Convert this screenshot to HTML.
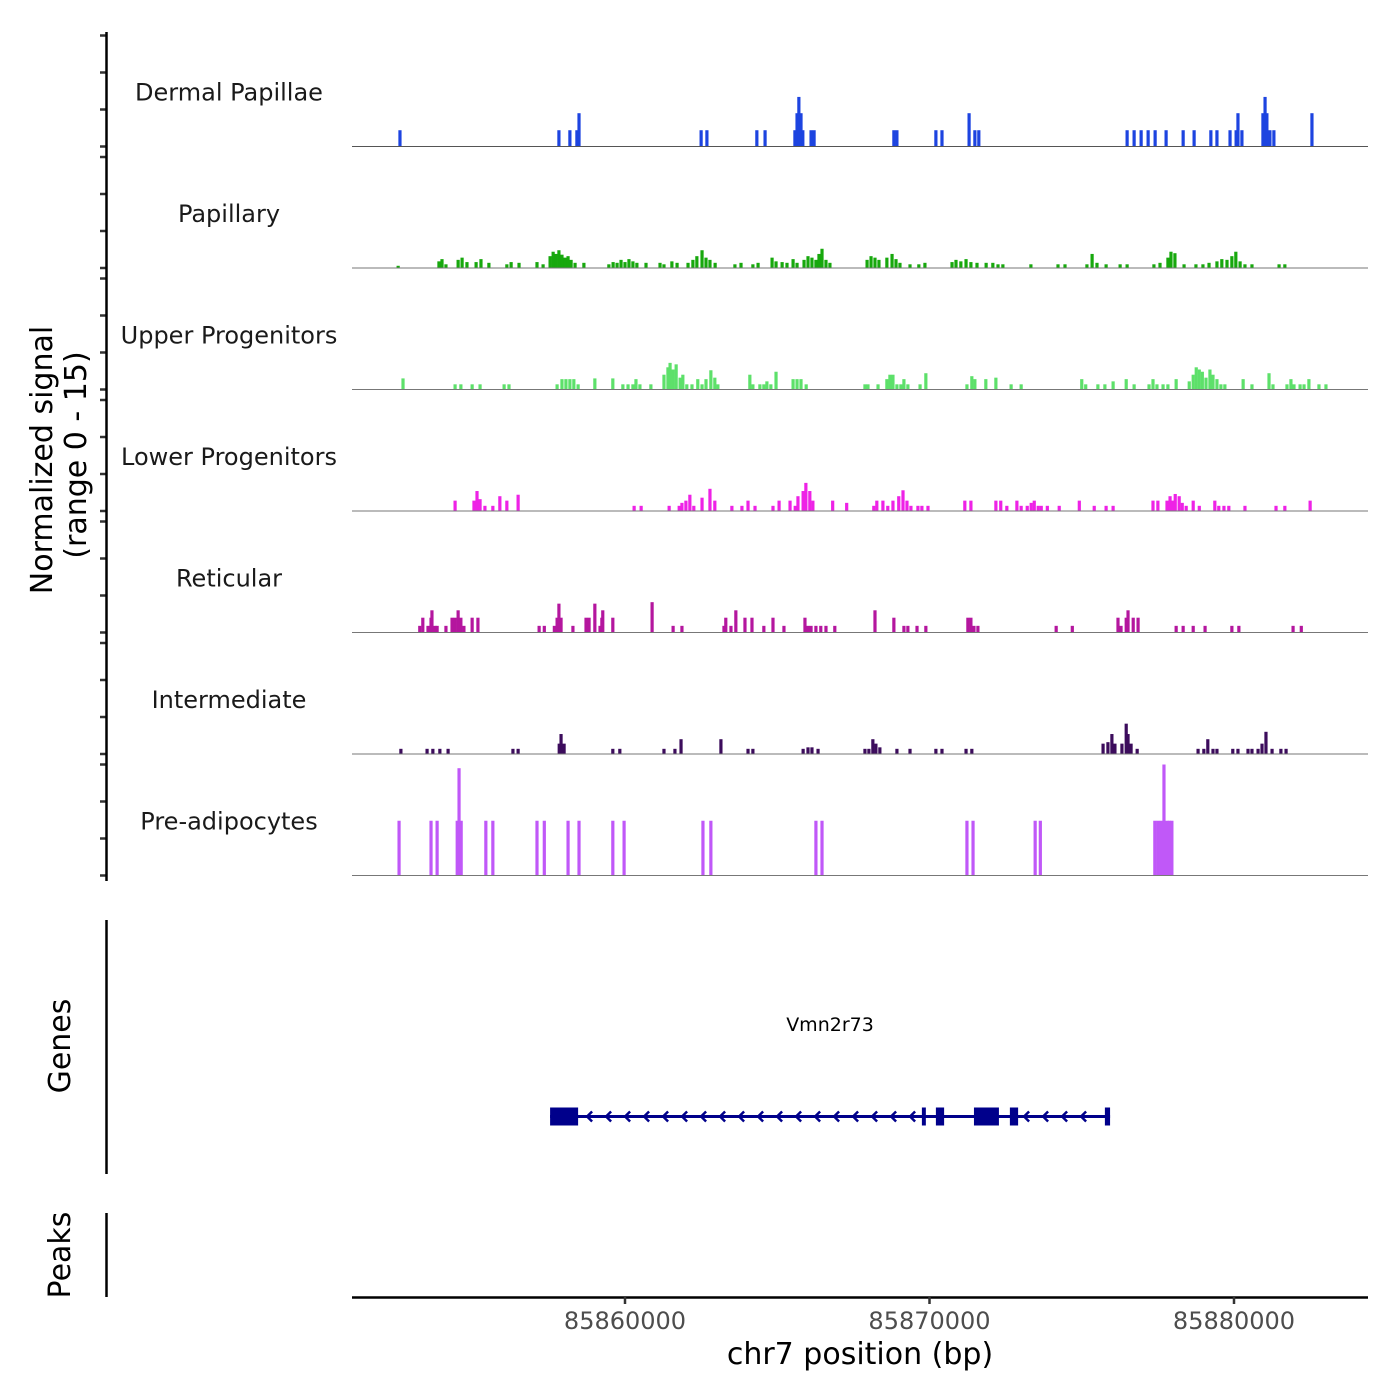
<!DOCTYPE html>
<html><head><meta charset="utf-8"><style>
body{margin:0;background:#fff}
svg{display:block;font-family:"DejaVu Sans","Liberation Sans",sans-serif}
</style></head><body>
<svg id="chart" width="1400" height="1400" viewBox="0 0 1400 1400" xmlns="http://www.w3.org/2000/svg">
<g id="tracks"></g>
<g id="labels"></g>
<g id="yaxis"></g>
<text transform="translate(52,460) rotate(-90)" text-anchor="middle" font-size="30" fill="#000">Normalized signal</text>
<text transform="translate(86,455) rotate(-90)" text-anchor="middle" font-size="30" fill="#000">(range 0 - 15)</text>
<line x1="106.5" y1="920" x2="106.5" y2="1174" stroke="#000" stroke-width="2.5"/>
<text transform="translate(70,1046) rotate(-90)" text-anchor="middle" font-size="30" fill="#000">Genes</text>
<line x1="106.5" y1="1213" x2="106.5" y2="1297" stroke="#000" stroke-width="2.5"/>
<text transform="translate(70,1255) rotate(-90)" text-anchor="middle" font-size="30" fill="#000">Peaks</text>
<g id="gene"></g>
<text x="830" y="1031" text-anchor="middle" font-size="19" fill="#000">Vmn2r73</text>
<g id="xaxis"></g>
<text x="860" y="1364" text-anchor="middle" font-size="30" fill="#000">chr7 position (bp)</text>
</svg>
<script>
// positions in kb offset from 85,850,000 bp; values in normalized signal units (0-15)
const trackNames = ["Dermal Papillae","Papillary","Upper Progenitors","Lower Progenitors","Reticular","Intermediate","Pre-adipocytes"];
const trackColors = ["#1d44e0","#17a80d","#5de06a","#ee22e6","#b4169e","#3c0c5c","#c058f8"];
const dpPos = [2.61,7.83,8.19,8.42,8.49,12.50,12.69,14.33,14.60,15.58,15.65,15.71,15.78,15.84,16.11,16.21,18.83,18.93,20.21,20.41,21.30,21.49,21.62,26.49,26.72,26.95,27.18,27.41,27.77,28.33,28.69,29.24,29.44,29.87,30.07,30.13,30.26,30.95,31.02,31.08,31.18,31.31,32.56];
const dpVal = [2.2,2.2,2.2,2.2,4.5,2.2,2.2,2.2,2.2,2.2,4.5,6.7,4.5,2.2,2.2,2.2,2.2,2.2,2.2,2.2,4.5,2.2,2.2,2.2,2.2,2.2,2.2,2.2,2.2,2.2,2.2,2.2,2.2,2.2,2.2,4.5,2.2,4.5,6.7,4.5,2.2,2.2,4.5];
const papPos = [2.55,3.89,3.99,4.12,4.52,4.65,4.81,5.11,5.27,5.53,6.12,6.26,6.52,7.11,7.31,7.54,7.64,7.73,7.83,7.93,8.03,8.13,8.23,8.36,8.65,9.47,9.61,9.74,9.87,10.00,10.13,10.26,10.39,10.69,11.15,11.28,11.54,11.71,12.07,12.23,12.36,12.53,12.66,12.79,12.96,13.61,13.81,14.20,14.37,14.83,14.96,15.16,15.32,15.52,15.65,15.88,16.01,16.14,16.27,16.37,16.47,16.60,16.73,17.95,18.08,18.21,18.34,18.60,18.77,18.90,19.03,19.36,19.65,19.85,20.74,20.87,21.03,21.20,21.36,21.56,21.86,22.08,22.25,22.41,23.33,24.22,24.45,25.17,25.34,25.50,25.80,26.26,26.49,27.37,27.57,27.83,27.93,28.06,28.36,28.75,28.98,29.18,29.44,29.60,29.77,29.93,30.06,30.20,30.36,30.59,31.48,31.67];
const papVal = [0.3,0.9,1.2,0.5,1.1,1.4,0.8,0.8,1.2,0.7,0.5,0.8,0.7,0.8,0.5,1.6,2.2,1.9,2.4,1.8,1.4,1.6,1.1,0.7,0.7,0.5,0.8,0.7,1.1,0.8,1.2,0.9,0.7,0.7,0.7,0.5,0.9,0.7,0.7,1.1,1.6,2.4,1.4,1.1,0.7,0.5,0.7,0.5,0.7,1.4,0.9,0.8,0.7,1.2,0.7,1.1,1.6,1.4,1.1,1.9,2.6,1.1,0.7,1.1,1.6,1.4,1.1,1.4,1.9,1.2,0.7,0.5,0.5,0.7,0.8,1.1,0.9,1.2,0.8,0.7,0.7,0.7,0.5,0.5,0.5,0.5,0.5,0.5,1.9,0.7,0.5,0.5,0.5,0.5,0.7,1.4,2.2,2.0,0.5,0.5,0.5,0.7,0.9,1.2,1.1,1.6,2.2,0.9,0.5,0.5,0.5,0.5];
const upPos = [2.71,4.42,4.61,4.98,5.24,6.03,6.19,7.77,7.93,8.06,8.19,8.32,8.46,9.01,9.60,9.93,10.10,10.26,10.36,10.49,10.85,11.28,11.41,11.48,11.58,11.68,11.81,11.90,12.03,12.20,12.39,12.53,12.66,12.82,12.95,13.05,14.10,14.20,14.43,14.56,14.66,14.79,14.96,15.52,15.65,15.78,15.95,17.88,17.98,18.31,18.60,18.70,18.80,18.93,19.06,19.16,19.29,19.69,19.88,21.23,21.39,21.49,21.85,22.18,22.68,23.01,25.00,25.13,25.53,25.76,26.03,26.46,26.72,27.21,27.34,27.47,27.67,27.83,28.10,28.53,28.66,28.76,28.86,28.96,29.08,29.21,29.31,29.44,29.57,29.70,30.30,30.59,31.15,31.28,31.74,31.87,31.97,32.17,32.30,32.46,32.79,33.02];
const upVal = [1.5,0.7,0.7,0.7,0.7,0.7,0.7,0.7,1.4,1.4,1.4,1.4,0.7,1.5,1.5,0.7,0.7,0.7,1.4,0.7,0.7,2.0,3.0,3.6,2.7,3.4,1.6,2.0,0.7,0.7,1.4,0.7,1.4,2.6,1.6,0.7,2.0,0.7,0.7,0.7,1.1,0.7,2.4,1.4,1.4,1.4,0.7,0.7,0.7,0.7,1.4,2.0,2.0,0.7,0.7,1.4,0.7,0.7,2.2,0.7,1.8,1.4,1.4,1.6,0.7,0.7,1.4,0.7,0.7,0.7,1.1,1.4,0.7,0.7,1.4,0.7,0.7,0.7,1.4,1.1,2.0,3.0,2.7,2.4,1.6,2.7,2.0,1.4,0.7,0.7,1.4,0.7,2.2,0.7,0.7,1.4,0.7,0.7,0.7,1.4,0.7,0.7];
const lpPos = [4.42,5.04,5.14,5.24,5.40,5.66,5.89,6.12,6.49,10.30,10.53,11.45,11.78,11.87,12.00,12.13,12.26,12.53,12.79,12.95,13.51,13.84,14.04,14.27,14.86,15.06,15.42,15.59,15.68,15.85,15.94,16.07,16.17,16.82,17.28,18.17,18.27,18.47,18.63,18.80,18.99,19.13,19.26,19.39,19.62,19.75,19.95,21.16,21.36,22.18,22.34,22.54,22.87,23.01,23.21,23.34,23.44,23.57,23.67,23.87,24.26,24.92,25.41,25.80,26.03,27.34,27.50,27.80,27.90,28.00,28.07,28.20,28.30,28.43,28.66,28.86,29.37,29.50,29.67,29.83,30.36,31.38,31.67,32.50];
const lpVal = [1.4,1.4,2.7,1.6,0.7,0.7,2.0,1.4,2.2,0.7,0.7,0.7,0.7,1.1,1.4,2.2,0.7,1.8,3.0,1.4,0.7,0.7,1.4,0.7,0.7,1.4,1.4,0.7,2.0,2.7,3.8,2.7,1.4,1.4,1.1,0.7,1.4,1.4,0.7,1.4,2.0,2.8,1.4,0.7,0.7,0.7,0.7,1.4,1.4,1.4,1.4,0.7,1.4,0.7,0.7,1.1,1.4,0.7,0.7,0.7,0.7,1.4,0.7,0.7,0.7,1.4,1.4,1.4,2.0,1.4,2.3,2.0,1.1,0.7,1.4,0.7,1.4,0.7,0.7,0.7,0.7,0.7,0.7,1.4];
const retPos = [3.26,3.36,3.53,3.63,3.66,3.76,3.83,4.12,4.32,4.42,4.52,4.61,4.71,4.98,5.17,7.18,7.35,7.68,7.77,7.83,7.90,8.29,8.72,8.82,9.01,9.18,9.24,9.27,9.60,10.89,11.58,11.87,13.25,13.31,13.48,13.64,13.94,14.17,14.56,14.86,15.22,15.91,16.01,16.11,16.27,16.43,16.60,16.89,18.21,18.83,19.16,19.29,19.59,19.88,21.26,21.36,21.46,21.59,24.16,24.69,26.19,26.29,26.46,26.52,26.69,26.85,28.10,28.33,28.66,29.05,29.93,30.16,31.94,32.21];
const retVal = [0.9,2.0,0.9,2.0,3.0,0.9,0.9,0.9,2.0,2.0,3.0,2.0,0.9,2.0,2.0,0.9,0.9,0.9,2.0,3.9,2.0,0.9,2.0,2.0,3.9,0.9,2.0,3.0,2.0,4.1,0.9,0.9,0.9,2.0,0.9,3.0,2.0,2.0,0.9,2.0,0.9,2.0,0.9,0.9,0.9,0.9,0.9,0.9,3.0,2.0,0.9,0.9,0.9,0.9,2.0,2.0,0.9,0.9,0.9,0.9,2.0,0.9,2.0,3.0,2.0,2.0,0.9,0.9,0.9,0.9,0.9,0.9,0.9,0.9];
const intPos = [2.64,3.50,3.69,3.92,4.19,6.32,6.49,7.84,7.90,8.00,9.60,9.83,11.28,11.64,11.84,13.15,14.04,14.20,15.85,16.01,16.14,16.34,17.88,18.01,18.14,18.24,18.37,18.93,19.36,20.21,20.41,21.20,21.39,25.70,25.86,25.99,26.09,26.32,26.46,26.52,26.62,26.82,28.82,29.01,29.14,29.31,29.44,29.96,30.13,30.46,30.59,30.79,30.92,31.05,31.25,31.54,31.71];
const intVal = [0.7,0.7,0.7,0.7,0.7,0.7,0.7,1.4,2.7,1.4,0.7,0.7,0.7,0.7,2.0,2.0,0.7,0.7,0.7,0.9,0.9,0.7,0.7,0.7,2.0,1.4,0.9,0.7,0.7,0.7,0.7,0.7,0.7,1.4,1.6,2.7,1.4,1.4,4.1,2.7,1.4,0.7,0.7,0.7,2.0,0.7,0.7,0.7,0.7,0.7,0.7,0.7,1.4,3.0,0.7,0.7,0.7];
const prePos = [2.58,3.63,3.83,4.49,4.55,4.62,5.43,5.66,7.11,7.35,8.13,8.49,9.60,9.97,12.56,12.82,16.27,16.47,21.23,21.43,23.47,23.64,27.40,27.50,27.60,27.70,27.80,27.88,27.96];
const preVal = [7.4,7.4,7.4,7.4,14.5,7.4,7.4,7.4,7.4,7.4,7.4,7.4,7.4,7.4,7.4,7.4,7.4,7.4,7.4,7.4,7.4,7.4,7.4,7.4,7.4,15.0,7.4,7.4,7.4];
const trackPos = [dpPos,papPos,upPos,lpPos,retPos,intPos,prePos];
const trackVal = [dpVal,papVal,upVal,lpVal,retVal,intVal,preVal];
const xTicks = [85860000,85870000,85880000];
const xTickLabels = ["85860000","85870000","85880000"];
const yTicks = [0,5,10,15];
// gene model (kb offsets from 85,850,000)
const geneStart = 7.54, geneEnd = 25.93;
const exonStart = [7.54,19.75,20.21,21.46,22.64,25.76];
const exonEnd   = [8.46,19.88,20.48,22.28,22.91,25.93];

const NS="http://www.w3.org/2000/svg";
function el(tag,attrs,parent){const e=document.createElementNS(NS,tag);for(const k in attrs)e.setAttribute(k,attrs[k]);parent.appendChild(e);return e;}
function xScale(bp){return 625+(bp-85860000)*0.03045;}
function kb(off){return 85850000+off*1000;}
const X0=352,X1=1368,TRACK_H=121.5,BASE0=146.5,UNIT=7.4;
function baseY(i){return BASE0+i*TRACK_H;}
function yScale(i,v){return baseY(i)-v*UNIT;}

const tracks=document.getElementById('tracks');
const labels=document.getElementById('labels');
const yaxis=document.getElementById('yaxis');
for(let i=0;i<trackNames.length;i++){
  const g=el('g',{},tracks);
  
  
  const pos=trackPos[i],val=trackVal[i];
  for(let j=0;j<pos.length;j++){
    const x=xScale(kb(pos[j])), y=yScale(i,val[j]);
    const r=el('rect',{x:(x-1.6).toFixed(2),y:y.toFixed(2),width:3.2,height:(baseY(i)-y).toFixed(2),fill:trackColors[i]},g);
    
    
  }
  const bl=el('line',{x1:X0,x2:X1,y1:baseY(i),y2:baseY(i),stroke:i<1?'#555':'#777','stroke-width':1},g);
  
  
  const t=el('text',{x:229,y:baseY(i)-46,'text-anchor':'middle','font-size':24,fill:'#1a1a1a'},labels);
  t.textContent=trackNames[i];
  
  
  for(const v of yTicks){
    const tk=el('line',{x1:100,x2:106,y1:yScale(i,v),y2:yScale(i,v),stroke:'#333','stroke-width':2.5},yaxis);
    
    
  }
}
const ya=el('line',{x1:106.5,x2:106.5,y1:32,y2:881,stroke:'#000','stroke-width':2.5},yaxis);



// gene
const gene=document.getElementById('gene');
const GY=1116.5;
const gl=el('line',{x1:xScale(kb(geneStart)),x2:xScale(kb(geneEnd)),y1:GY,y2:GY,stroke:'#00008b','stroke-width':3},gene);


const ax0=xScale(kb(geneStart)), ax1=xScale(kb(geneEnd));
for(let x=ax0+38;x<ax1-6;x+=19){
  let inEx=false;
  for(let k=0;k<exonStart.length;k++){const a=xScale(kb(exonStart[k]))-6,b=xScale(kb(exonEnd[k]))+6;if(x>a&&x<b)inEx=true;}
  if(inEx)continue;
  const p=el('polyline',{points:`${x+4},${GY-5} ${x-1},${GY} ${x+4},${GY+5}`,fill:'none',stroke:'#00008b','stroke-width':2.5},gene);
  
  
}
for(let k=0;k<exonStart.length;k++){
  const a=xScale(kb(exonStart[k])),b=xScale(kb(exonEnd[k]));
  const h=18;
  const r=el('rect',{x:a,y:GY-h/2,width:Math.max(3.5,b-a),height:h,fill:'#00008b'},gene);
  
  
}

// x axis
const xa=document.getElementById('xaxis');
const xl=el('line',{x1:X0,x2:X1,y1:1297.5,y2:1297.5,stroke:'#000','stroke-width':2.5},xa);


for(let k=0;k<xTicks.length;k++){
  const x=xScale(xTicks[k]);
  const t=el('line',{x1:x,x2:x,y1:1297,y2:1304,stroke:'#333','stroke-width':2.5},xa);
  
  
  const tx=el('text',{x:x,y:1329,'text-anchor':'middle','font-size':24,fill:'#4d4d4d'},xa);
  tx.textContent=xTickLabels[k];
  
  
}
</script>
</body></html>
